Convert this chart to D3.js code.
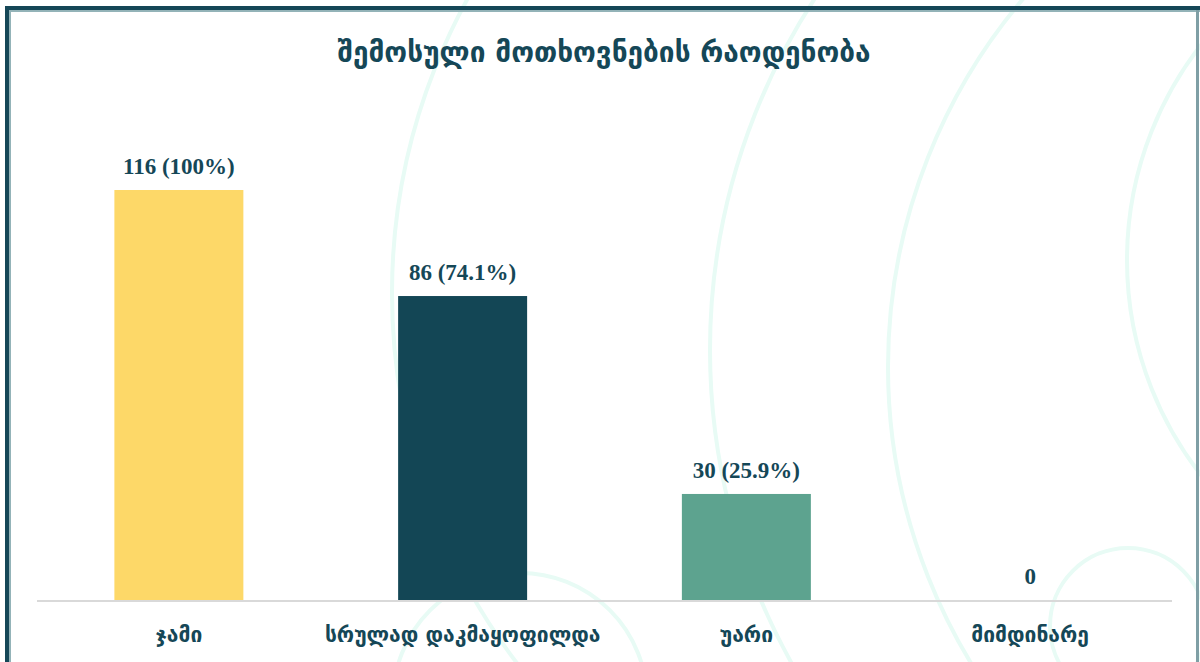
<!DOCTYPE html>
<html>
<head>
<meta charset="utf-8">
<script src="https://cdn.jsdelivr.net/npm/d3@7"></script>
<style>
  html, body { margin: 0; padding: 0; background: #ffffff; }
  svg { display: block; }
</style>
</head>
<body>
<svg id="chart"></svg>
<script>
// ======================
// DATA
// ======================

const categories = ["ჯამი", "სრულად დაკმაყოფილდა", "უარი", "მიმდინარე"];
const counts = [116, 86, 30, 0];
const shares = ["100%", "74.1%", "25.9%", null];
const barColors = ["#fdd868", "#134655", "#5da38f", "#5da38f"];
const chartTitle = "შემოსული მოთხოვნების რაოდენობა";

// ======================
// SETUP
// ======================

const width = 1200;
const height = 662;
const svg = d3.select("#chart").attr("width", width).attr("height", height);

const margin = { top: 190, right: 28, bottom: 62, left: 37 };
const baseY = height - margin.bottom;
const textColor = "#154757";

// faint decorative arcs in the background
const arcs = [
    { cx: 1002, cy: 293, r: 610 },
    { cx: 1351, cy: 350, r: 641 },
    { cx: 1457, cy: 367, r: 569 },
    { cx: 1476, cy: 260, r: 349 },
    { cx: 1128, cy: 626, r: 78 },
    { cx: 520, cy: 700, r: 127 }
];
svg.append("g")
    .selectAll("circle")
    .data(arcs)
    .join("circle")
    .attr("cx", d => d.cx)
    .attr("cy", d => d.cy)
    .attr("r", d => d.r)
    .attr("fill", "none")
    .attr("stroke", "#e8fbf5")
    .attr("stroke-width", 4);

// frame
const frame = svg.append("g");
frame.append("rect").attr("x", 5).attr("y", 6).attr("width", width - 5).attr("height", 4).attr("fill", "#154757");
frame.append("rect").attr("x", 9).attr("y", 10).attr("width", width - 9).attr("height", 2).attr("fill", "#93b3b8");
frame.append("rect").attr("x", 5).attr("y", 6).attr("width", 4).attr("height", height).attr("fill", "#154757");
frame.append("rect").attr("x", 9).attr("y", 10).attr("width", 2).attr("height", height).attr("fill", "#93b3b8");
frame.append("rect").attr("x", 1196).attr("y", 10).attr("width", 3).attr("height", height).attr("fill", "#7f9fa5");

// ======================
// SCALES
// ======================

const x = d3.scaleBand()
    .domain(categories)
    .range([margin.left, width - margin.right])
    .paddingInner(0.5454)
    .paddingOuter(0.2727);

const y = d3.scaleLinear()
    .domain([0, d3.max(counts)])
    .range([baseY, margin.top]);

const data = categories.map((c, i) => ({
    cat: c, value: counts[i], share: shares[i], color: barColors[i]
}));

// ======================
// BARS + LABELS
// ======================

svg.append("g")
    .selectAll("rect")
    .data(data)
    .join("rect")
    .attr("x", d => x(d.cat))
    .attr("y", d => y(d.value))
    .attr("width", x.bandwidth())
    .attr("height", d => baseY - y(d.value))
    .attr("fill", d => d.color);

svg.append("g")
    .selectAll("text")
    .data(data)
    .join("text")
    .attr("x", d => x(d.cat) + x.bandwidth() / 2)
    .attr("y", d => y(d.value) - 16)
    .attr("text-anchor", "middle")
    .attr("font-family", "'Liberation Serif', serif")
    .attr("font-weight", "bold")
    .attr("font-size", 23)
    .attr("fill", textColor)
    .text(d => d.share ? `${d.value} (${d.share})` : `${d.value}`);

// x axis
const xAxis = d3.axisBottom(x).tickSize(0).tickPadding(0);
const xAxisG = svg.append("g")
    .attr("transform", `translate(0,${baseY})`)
    .call(xAxis);
xAxisG.select(".domain")
    .attr("stroke", "#d9d9d9")
    .attr("stroke-width", 2)
    .attr("d", `M${margin.left},1H${width - margin.right}`);
xAxisG.selectAll(".tick text")
    .attr("y", 42)
    .attr("dy", 0)
    .attr("font-family", "'DejaVu Sans', sans-serif")
    .attr("font-weight", "bold")
    .attr("font-size", 21)
    .attr("fill", textColor);

// title
svg.append("text")
    .attr("x", 604)
    .attr("y", 62)
    .attr("text-anchor", "middle")
    .attr("font-family", "'DejaVu Sans', sans-serif")
    .attr("font-weight", "bold")
    .attr("font-size", 28)
    .attr("fill", textColor)
    .text(chartTitle);
</script>
</body>
</html>
